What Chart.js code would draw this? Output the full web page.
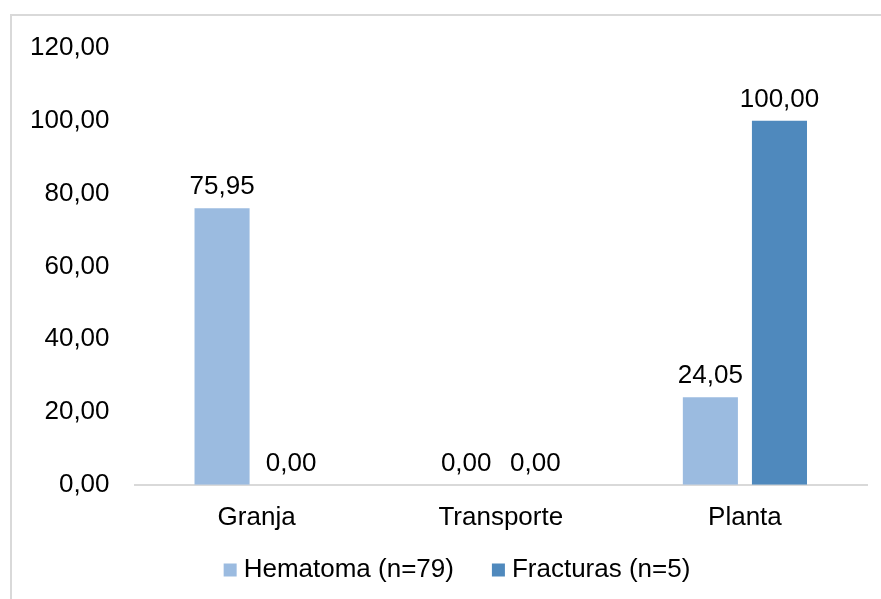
<!DOCTYPE html>
<html>
<head>
<meta charset="utf-8">
<script src="https://cdn.jsdelivr.net/npm/chart.js@4.4.1/dist/chart.umd.min.js"></script>
<style>
  html, body { margin: 0; padding: 0; background: #ffffff; }
  #wrap { position: relative; width: 881px; height: 599px; overflow: hidden; }
  #frame { position: absolute; left: 10px; top: 14px; width: 900px; height: 700px;
           border-left: 2px solid #d9d9d9; border-top: 2px solid #d9d9d9; pointer-events: none; }
  canvas { position: absolute; left: 0; top: 0; }
</style>
</head>
<body>
<div id="wrap">
  <canvas id="chart" width="881" height="599"></canvas>
  <div id="frame"></div>
</div>
<script>
const categories = ['Granja', 'Transporte', 'Planta'];
const hematoma = [75.95, 0.00, 24.05];
const fracturas = [0.00, 0.00, 100.00];
const seriesNames = ['Hematoma (n=79)', 'Fracturas (n=5)'];
const yTicks = [0, 20, 40, 60, 80, 100, 120];

const FONT = "'Liberation Sans', Arial, sans-serif";
const FONT_SIZE = 26;
const fmt = v => v.toFixed(2).replace('.', ',');

// Writes each bar's value above it
const valueLabels = {
  id: 'valueLabels',
  afterDatasetsDraw(chart) {
    const ctx = chart.ctx;
    ctx.save();
    ctx.font = FONT_SIZE + 'px ' + FONT;
    ctx.fillStyle = '#000000';
    ctx.textAlign = 'center';
    ctx.textBaseline = 'alphabetic';
    chart.data.datasets.forEach((ds, di) => {
      chart.getDatasetMeta(di).data.forEach((bar, i) => {
        ctx.fillText(fmt(ds.data[i]), bar.x, bar.y - 14);
      });
    });
    ctx.restore();
  }
};

// Bottom legend: small square swatch, tight gap, then the series name
const bottomLegend = {
  id: 'bottomLegend',
  afterDraw(chart) {
    const ctx = chart.ctx;
    const box = 13, gap = 7, spacing = 38, centerX = 457, centerY = 570;
    ctx.save();
    ctx.font = FONT_SIZE + 'px ' + FONT;
    const items = chart.data.datasets.map(ds => ({
      text: ds.label, color: ds.backgroundColor, w: ctx.measureText(ds.label).width
    }));
    const total = items.reduce((s, it) => s + box + gap + it.w, 0) + spacing * (items.length - 1);
    let x = centerX - total / 2;
    ctx.textBaseline = 'middle';
    ctx.textAlign = 'left';
    items.forEach(it => {
      ctx.fillStyle = it.color;
      ctx.fillRect(x, centerY - box / 2, box, box);
      x += box + gap;
      ctx.fillStyle = '#000000';
      ctx.fillText(it.text, x, centerY);
      x += it.w + spacing;
    });
    ctx.restore();
  }
};

new Chart(document.getElementById('chart'), {
  type: 'bar',
  data: {
    labels: categories,
    datasets: [
      { label: seriesNames[0], data: hematoma, backgroundColor: '#9bbbe0' },
      { label: seriesNames[1], data: fracturas, backgroundColor: '#4f89bd' }
    ]
  },
  options: {
    responsive: false,
    animation: false,
    devicePixelRatio: 1,
    categoryPercentage: 0.566,
    barPercentage: 0.797,
    layout: { padding: { left: 5, right: 14, top: 48, bottom: 49 } },
    plugins: {
      tooltip: { enabled: false },
      legend: { display: false }
    },
    scales: {
      x: {
        grid: { display: false, drawTicks: false },
        border: { display: true, color: '#d9d9d9', width: 2 },
        ticks: { font: { family: FONT, size: FONT_SIZE }, color: '#000000', padding: 17 }
      },
      y: {
        min: 0, max: 120,
        afterBuildTicks(axis) { axis.ticks = yTicks.map(v => ({ value: v })); },
        grid: { display: false, drawTicks: false },
        border: { display: false },
        ticks: { font: { family: FONT, size: FONT_SIZE }, color: '#000000', padding: 25,
                 callback: v => fmt(v) }
      }
    }
  },
  plugins: [valueLabels, bottomLegend]
});
</script>
</body>
</html>
